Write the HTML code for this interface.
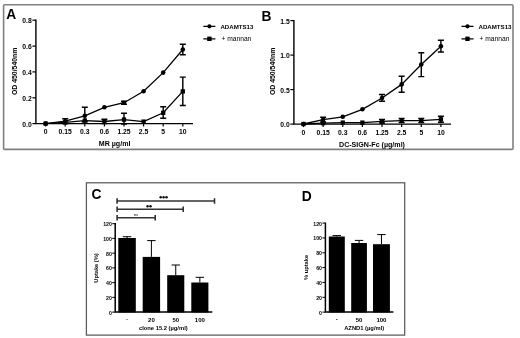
<!DOCTYPE html><html><head><meta charset="utf-8"><style>html,body{margin:0;padding:0;background:#fff}svg{display:block}text{font-family:"Liberation Sans",sans-serif;fill:#000}</style></head><body>
<svg width="520" height="338" viewBox="0 0 520 338"><defs><filter id="bl" x="0" y="0" width="520" height="338" filterUnits="userSpaceOnUse"><feGaussianBlur stdDeviation="0.32"/></filter></defs><g filter="url(#bl)">
<rect width="520" height="338" fill="#fff"/>
<rect x="3.6" y="4.8" width="509.4" height="144.6" rx="1" fill="none" stroke="#808080" stroke-width="1.6"/>
<rect x="86.4" y="182.8" width="318.3" height="152.3" fill="none" stroke="#5a5a5a" stroke-width="1.25"/>
<g stroke="#000" stroke-width="1.4" fill="none">
<path d="M35.9 19.599999999999998V123.6H193"/>
</g>
<g stroke="#000" stroke-width="1.2">
<path d="M32.4 20.2H35.9"/>
<path d="M32.4 46.1H35.9"/>
<path d="M32.4 71.9H35.9"/>
<path d="M32.4 97.8H35.9"/>
<path d="M32.4 123.6H35.9"/>
<path d="M45.6 123.6V126.6"/>
<path d="M65.2 123.6V126.6"/>
<path d="M84.8 123.6V126.6"/>
<path d="M104.4 123.6V126.6"/>
<path d="M124 123.6V126.6"/>
<path d="M143.6 123.6V126.6"/>
<path d="M163.2 123.6V126.6"/>
<path d="M182.8 123.6V126.6"/>
</g>
<g font-size="6.8" font-weight="bold">
<text x="31.7" y="23.1" text-anchor="end">0.8</text>
<text x="31.7" y="49" text-anchor="end">0.6</text>
<text x="31.7" y="74.8" text-anchor="end">0.4</text>
<text x="31.7" y="100.7" text-anchor="end">0.2</text>
<text x="31.7" y="126.5" text-anchor="end">0.0</text>
<text x="45.6" y="134.4" text-anchor="middle">0</text>
<text x="65.2" y="134.4" text-anchor="middle">0.15</text>
<text x="84.8" y="134.4" text-anchor="middle">0.3</text>
<text x="104.4" y="134.4" text-anchor="middle">0.6</text>
<text x="124" y="134.4" text-anchor="middle">1.25</text>
<text x="143.6" y="134.4" text-anchor="middle">2.5</text>
<text x="163.2" y="134.4" text-anchor="middle">5</text>
<text x="182.8" y="134.4" text-anchor="middle">10</text>
</g>
<path d="M45.6 123.6 L65.2 121.2 L84.8 115.8 L104.4 107.3 L124 102.7 L143.6 91.2 L163.2 72.6 L182.8 49.5" fill="none" stroke="#000" stroke-width="1.3"/>
<path d="M45.6 123.6 L65.2 122.4 L84.8 120.6 L104.4 121.5 L124 119.6 L143.6 121.6 L163.2 112.8 L182.8 91.4" fill="none" stroke="#000" stroke-width="1.3"/>
<g stroke="#000" stroke-width="1.45" fill="none">
<path d="M65.2 118.8V123.4M62.2 118.8H68.2M62.2 123.4H68.2"/>
<path d="M84.8 107.3V121.8M81.8 107.3H87.8M81.8 121.8H87.8"/>
<path d="M124 101.2V104.2M121 101.2H127M121 104.2H127"/>
<path d="M182.8 44.3V54.8M179.8 44.3H185.8M179.8 54.8H185.8"/>
<path d="M104.4 119.2V123.6M101.4 119.2H107.4M101.4 123.6H107.4"/>
<path d="M124 113.3V124M121 113.3H127M121 124H127"/>
<path d="M163.2 106.8V118.3M160.2 106.8H166.2M160.2 118.3H166.2"/>
<path d="M182.8 77.1V105.5M179.8 77.1H185.8M179.8 105.5H185.8"/>
</g>
<circle cx="45.6" cy="123.6" r="2.3"/>
<circle cx="65.2" cy="121.2" r="2.3"/>
<circle cx="84.8" cy="115.8" r="2.3"/>
<circle cx="104.4" cy="107.3" r="2.3"/>
<circle cx="124" cy="102.7" r="2.3"/>
<circle cx="143.6" cy="91.2" r="2.3"/>
<circle cx="163.2" cy="72.6" r="2.3"/>
<circle cx="182.8" cy="49.5" r="2.3"/>
<rect x="43.45" y="121.45" width="4.3" height="4.3"/>
<rect x="63.05" y="120.25" width="4.3" height="4.3"/>
<rect x="82.65" y="118.45" width="4.3" height="4.3"/>
<rect x="102.25" y="119.35" width="4.3" height="4.3"/>
<rect x="121.85" y="117.45" width="4.3" height="4.3"/>
<rect x="141.45" y="119.45" width="4.3" height="4.3"/>
<rect x="161.05" y="110.65" width="4.3" height="4.3"/>
<rect x="180.65" y="89.25" width="4.3" height="4.3"/>
<text x="114.6" y="146.1" text-anchor="middle" font-size="7.1" font-weight="bold" fill="#222">MR &#181;g/ml</text>
<text transform="translate(16.8 71.3) rotate(-90)" text-anchor="middle" font-size="6.9" font-weight="bold">OD 450/540nm</text>
<text x="6.3" y="19.2" font-size="13.8" font-weight="bold">A</text>
<path d="M203.4 26.3H215.4M203.4 38.8H215.4" stroke="#000" stroke-width="1.3"/>
<circle cx="209.4" cy="26.3" r="2.1"/><rect x="207.20000000000002" y="36.6" width="4.4" height="4.4"/>
<text x="220.4" y="28.6" font-size="6.1" font-weight="bold" textLength="33" lengthAdjust="spacingAndGlyphs">ADAMTS13</text>
<text x="221.4" y="41" font-size="6.7" fill="#444">+ mannan</text>
<g stroke="#000" stroke-width="1.4" fill="none">
<path d="M293.9 20.0V124.1H451"/>
</g>
<g stroke="#000" stroke-width="1.2">
<path d="M290.4 20.6H293.9"/>
<path d="M290.4 55.1H293.9"/>
<path d="M290.4 89.6H293.9"/>
<path d="M290.4 124.1H293.9"/>
<path d="M303.5 124.1V127.1"/>
<path d="M323.13 124.1V127.1"/>
<path d="M342.76 124.1V127.1"/>
<path d="M362.39 124.1V127.1"/>
<path d="M382.02 124.1V127.1"/>
<path d="M401.65 124.1V127.1"/>
<path d="M421.28 124.1V127.1"/>
<path d="M440.91 124.1V127.1"/>
</g>
<g font-size="6.8" font-weight="bold">
<text x="289.7" y="23.5" text-anchor="end">1.5</text>
<text x="289.7" y="58" text-anchor="end">1.0</text>
<text x="289.7" y="92.5" text-anchor="end">0.5</text>
<text x="289.7" y="127" text-anchor="end">0.0</text>
<text x="303.5" y="134.9" text-anchor="middle">0</text>
<text x="323.13" y="134.9" text-anchor="middle">0.15</text>
<text x="342.76" y="134.9" text-anchor="middle">0.3</text>
<text x="362.39" y="134.9" text-anchor="middle">0.6</text>
<text x="382.02" y="134.9" text-anchor="middle">1.25</text>
<text x="401.65" y="134.9" text-anchor="middle">2.5</text>
<text x="421.28" y="134.9" text-anchor="middle">5</text>
<text x="440.91" y="134.9" text-anchor="middle">10</text>
</g>
<path d="M303.5 124 L323.13 119.6 L342.76 116.8 L362.39 109.3 L382.02 98 L401.65 84.4 L421.28 64.5 L440.91 46.3" fill="none" stroke="#000" stroke-width="1.3"/>
<path d="M303.5 124 L323.13 123.2 L342.76 122.6 L362.39 122.6 L382.02 121.3 L401.65 120.6 L421.28 120.6 L440.91 119.3" fill="none" stroke="#000" stroke-width="1.3"/>
<g stroke="#000" stroke-width="1.45" fill="none">
<path d="M323.13 117.3V122M320.13 117.3H326.13M320.13 122H326.13"/>
<path d="M382.02 94.4V101.2M379.02 94.4H385.02M379.02 101.2H385.02"/>
<path d="M401.65 76.3V92.2M398.65 76.3H404.65M398.65 92.2H404.65"/>
<path d="M421.28 52.8V76.6M418.28 52.8H424.28M418.28 76.6H424.28"/>
<path d="M440.91 40.2V52M437.91 40.2H443.91M437.91 52H443.91"/>
<path d="M382.02 119.5V123M379.02 119.5H385.02M379.02 123H385.02"/>
<path d="M401.65 118.5V122.6M398.65 118.5H404.65M398.65 122.6H404.65"/>
<path d="M421.28 118.5V122.6M418.28 118.5H424.28M418.28 122.6H424.28"/>
<path d="M440.91 116.3V122.3M437.91 116.3H443.91M437.91 122.3H443.91"/>
</g>
<circle cx="303.5" cy="124" r="2.3"/>
<circle cx="323.13" cy="119.6" r="2.3"/>
<circle cx="342.76" cy="116.8" r="2.3"/>
<circle cx="362.39" cy="109.3" r="2.3"/>
<circle cx="382.02" cy="98" r="2.3"/>
<circle cx="401.65" cy="84.4" r="2.3"/>
<circle cx="421.28" cy="64.5" r="2.3"/>
<circle cx="440.91" cy="46.3" r="2.3"/>
<rect x="301.35" y="121.85" width="4.3" height="4.3"/>
<rect x="320.98" y="121.05" width="4.3" height="4.3"/>
<rect x="340.61" y="120.45" width="4.3" height="4.3"/>
<rect x="360.24" y="120.45" width="4.3" height="4.3"/>
<rect x="379.87" y="119.15" width="4.3" height="4.3"/>
<rect x="399.5" y="118.45" width="4.3" height="4.3"/>
<rect x="419.13" y="118.45" width="4.3" height="4.3"/>
<rect x="438.76" y="117.15" width="4.3" height="4.3"/>
<text x="372" y="146.6" text-anchor="middle" font-size="7.1" font-weight="bold" fill="#222">DC-SIGN-Fc  (&#181;g/ml)</text>
<text transform="translate(274.8 71.3) rotate(-90)" text-anchor="middle" font-size="6.9" font-weight="bold">OD 450/540nm</text>
<text x="261.4" y="21" font-size="13.8" font-weight="bold">B</text>
<path d="M461.5 26.3H473.5M461.5 38.8H473.5" stroke="#000" stroke-width="1.3"/>
<circle cx="467.5" cy="26.3" r="2.1"/><rect x="465.3" y="36.6" width="4.4" height="4.4"/>
<text x="478.5" y="28.6" font-size="6.1" font-weight="bold" textLength="33" lengthAdjust="spacingAndGlyphs">ADAMTS13</text>
<text x="479.5" y="41" font-size="6.7" fill="#444">+ mannan</text>
<path d="M115.2 223.1V312.1H212.3" stroke="#000" stroke-width="1.5" fill="none"/>
<g stroke="#000" stroke-width="1">
<path d="M112.2 223.7H115.2"/>
<path d="M112.2 238.43H115.2"/>
<path d="M112.2 253.17H115.2"/>
<path d="M112.2 267.9H115.2"/>
<path d="M112.2 282.63H115.2"/>
<path d="M112.2 297.37H115.2"/>
<path d="M112.2 312.1H115.2"/>
</g>
<g font-size="5.2" font-weight="bold">
<text x="111.8" y="226.2" text-anchor="end">120</text>
<text x="111.8" y="240.93" text-anchor="end">100</text>
<text x="111.8" y="255.67" text-anchor="end">80</text>
<text x="111.8" y="270.4" text-anchor="end">60</text>
<text x="111.8" y="285.13" text-anchor="end">40</text>
<text x="111.8" y="299.87" text-anchor="end">20</text>
<text x="111.8" y="314.6" text-anchor="end">0</text>
<text x="127.05" y="320.9" text-anchor="middle" font-size="6" fill="#222">-</text>
<text x="151.4" y="321.7" text-anchor="middle" font-size="6" fill="#222">20</text>
<text x="175.75" y="321.7" text-anchor="middle" font-size="6" fill="#222">50</text>
<text x="199.85" y="321.7" text-anchor="middle" font-size="6" fill="#222">100</text>
</g>
<rect x="118.3" y="238" width="17.5" height="74.4"/>
<path d="M127.05 238V236.7M122.85 236.7H131.25" stroke="#000" stroke-width="1" fill="none"/>
<rect x="142.7" y="256.9" width="17.4" height="55.5"/>
<path d="M151.4 256.9V240.6M147.2 240.6H155.6" stroke="#000" stroke-width="1" fill="none"/>
<rect x="167.2" y="275.2" width="17.1" height="37.2"/>
<path d="M175.75 275.2V265M171.55 265H179.95" stroke="#000" stroke-width="1" fill="none"/>
<rect x="191.3" y="282.5" width="17.1" height="29.9"/>
<path d="M199.85 282.5V277.3M195.65 277.3H204.05" stroke="#000" stroke-width="1" fill="none"/>
<text x="163.3" y="329.6" text-anchor="middle" font-size="5.8" font-weight="bold" fill="#222">clone 15.2 (&#181;g/ml)</text>
<text transform="translate(98.4 268) rotate(-90)" text-anchor="middle" font-size="5.7" font-weight="bold" fill="#222">Uptake (%)</text>
<text x="91.4" y="199" font-size="13.8" font-weight="bold">C</text>
<path d="M325.4 222.5V312.1H393.4" stroke="#000" stroke-width="1.5" fill="none"/>
<g stroke="#000" stroke-width="1">
<path d="M322.4 223.1H325.4"/>
<path d="M322.4 237.93H325.4"/>
<path d="M322.4 252.77H325.4"/>
<path d="M322.4 267.6H325.4"/>
<path d="M322.4 282.43H325.4"/>
<path d="M322.4 297.27H325.4"/>
<path d="M322.4 312.1H325.4"/>
</g>
<g font-size="5.2" font-weight="bold">
<text x="322.0" y="225.6" text-anchor="end">120</text>
<text x="322.0" y="240.43" text-anchor="end">100</text>
<text x="322.0" y="255.27" text-anchor="end">80</text>
<text x="322.0" y="270.1" text-anchor="end">60</text>
<text x="322.0" y="284.93" text-anchor="end">40</text>
<text x="322.0" y="299.77" text-anchor="end">20</text>
<text x="322.0" y="314.6" text-anchor="end">0</text>
<text x="336.8" y="320.9" text-anchor="middle" font-size="6" fill="#999">-</text>
<text x="359.05" y="321.7" text-anchor="middle" font-size="6" fill="#222">50</text>
<text x="381.45" y="321.7" text-anchor="middle" font-size="6" fill="#222">100</text>
</g>
<rect x="328.8" y="236.5" width="16" height="75.9"/>
<path d="M336.8 236.5V235.6M332.6 235.6H341" stroke="#000" stroke-width="1" fill="none"/>
<rect x="351.2" y="243" width="15.7" height="69.4"/>
<path d="M359.05 243V240.4M354.85 240.4H363.25" stroke="#000" stroke-width="1" fill="none"/>
<rect x="373" y="244.2" width="16.9" height="68.2"/>
<path d="M381.45 244.2V234.6M377.25 234.6H385.65" stroke="#000" stroke-width="1" fill="none"/>
<text x="364.2" y="329.6" text-anchor="middle" font-size="5.8" font-weight="bold" fill="#222">AZND1 (&#181;g/ml)</text>
<text transform="translate(308.4 267.4) rotate(-90)" text-anchor="middle" font-size="5.7" font-weight="bold" fill="#222">% uptake</text>
<text x="301.8" y="200.6" font-size="13.8" font-weight="bold">D</text>
<g stroke="#333" stroke-width="1.6" fill="none">
<path d="M117.1 201H214.5M117.1 198.3V203.7M214.5 198.3V203.7"/>
<path d="M117.1 209.2H183.2M117.1 206.5V211.89999999999998M183.2 206.5V211.89999999999998"/>
<path d="M117.1 217.7H155.2M117.1 215.0V220.39999999999998M155.2 215.0V220.39999999999998"/>
</g>
<g fill="#111"><circle cx="160.7" cy="197.3" r="1.25"/><circle cx="163.6" cy="197.3" r="1.25"/><circle cx="166.5" cy="197.3" r="1.25"/><circle cx="147.6" cy="206.2" r="1.25"/><circle cx="150.5" cy="206.2" r="1.25"/></g>
<text x="136" y="216.3" text-anchor="middle" font-size="4.2" fill="#888">ns</text>
</g></svg></body></html>
